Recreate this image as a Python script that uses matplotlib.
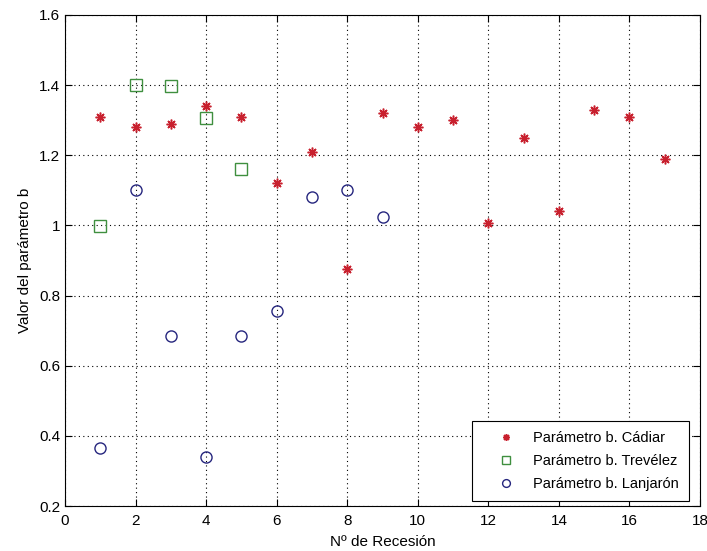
import numpy as np
import matplotlib
matplotlib.use('Agg')
import matplotlib.pyplot as plt

plt.rcParams['font.family'] = ['Liberation Sans', 'DejaVu Sans']

# recesiones
x_cadiar = [1, 2, 3, 4, 5, 6, 7, 8, 9, 10, 11, 12, 13, 14, 15, 16, 17]
b_cadiar = [1.31, 1.28, 1.29, 1.34, 1.31, 1.12, 1.21, 0.875, 1.32, 1.28,
            1.30, 1.007, 1.25, 1.04, 1.33, 1.31, 1.19]

x_trevelez = [1, 2, 3, 4, 5]
b_trevelez = [0.997, 1.40, 1.397, 1.306, 1.16]

x_lanjaron = [1, 2, 3, 4, 5, 6, 7, 8, 9]
b_lanjaron = [0.365, 1.10, 0.686, 0.34, 0.686, 0.755, 1.08, 1.10, 1.023]

labels = ['Parámetro b. Cádiar', 'Parámetro b. Trevélez', 'Parámetro b. Lanjarón']


def main():
    fig = plt.figure(figsize=(7.07, 5.51), dpi=100)
    ax = fig.add_axes([65 / 707, 45 / 551, 635 / 707, 491 / 551])

    ax.plot(x_cadiar, b_cadiar, linestyle='none', marker=(8, 2, 0), ms=7,
            mec='#c8202e', mew=1.1, label=labels[0])
    ax.plot(x_trevelez, b_trevelez, linestyle='none', marker='s', ms=8,
            mfc='none', mec='#3f8f3f', mew=1.0, label=labels[1])
    ax.plot(x_lanjaron, b_lanjaron, linestyle='none', marker='o', ms=8,
            mfc='none', mec='#26267e', mew=1.0, label=labels[2])

    ax.set_xlim(0, 18)
    ax.set_ylim(0.2, 1.6)
    ax.set_xticks(np.arange(0, 19, 2))
    ax.set_yticks([0.2, 0.4, 0.6, 0.8, 1, 1.2, 1.4, 1.6])
    ax.set_yticklabels(['0.2', '0.4', '0.6', '0.8', '1', '1.2', '1.4', '1.6'])
    ax.grid(True, linestyle=(0, (1, 3)), color='black', linewidth=0.8)
    ax.tick_params(direction='in', top=True, right=True, labelsize=11, length=5)
    ax.tick_params(axis='x', pad=5.5)
    for s in ax.spines.values():
        s.set_linewidth(0.8)

    ax.set_xlabel('Nº de Recesión', fontsize=11, labelpad=5)
    ax.set_ylabel('Valor del parámetro b', fontsize=11, labelpad=5)

    leg = ax.legend(loc='lower right', bbox_to_anchor=(0.9827, 0.0102),
                    fontsize=10.5, fancybox=False, edgecolor='black',
                    framealpha=1, borderaxespad=0, borderpad=0.7,
                    handlelength=3.3, handletextpad=0.2, labelspacing=0.6,
                    markerscale=0.7)
    leg.get_frame().set_linewidth(0.8)

    fig.savefig('out.png', dpi=100)


if __name__ == "__main__":
    main()
